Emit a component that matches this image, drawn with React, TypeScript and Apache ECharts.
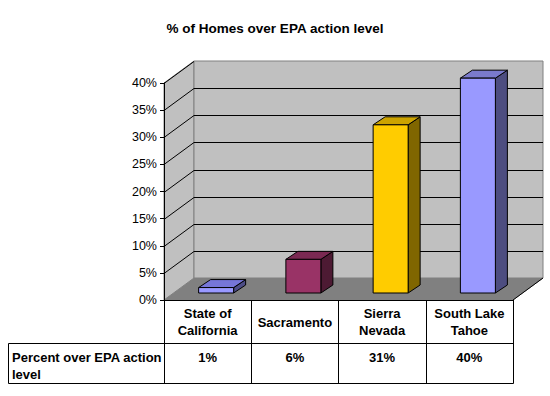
import React, { useEffect, useRef } from "react";
import * as echarts from "echarts";

const title = "% of Homes over EPA action level";
const categories = ["State of\nCalifornia", "Sacramento", "Sierra\nNevada", "South Lake\nTahoe"];
const values = [1, 6.2, 31, 39.6];
const yTicks = [0, 5, 10, 15, 20, 25, 30, 35, 40];
const rowLabel = "Percent over EPA action\nlevel";

const faceColors = [
  { front: "#9999FF", top: "#7676D8", side: "#4D4D86" },
  { front: "#993366", top: "#7A2952", side: "#4D1A33" },
  { front: "#FFCC00", top: "#CCA300", side: "#806600" },
  { front: "#9999FF", top: "#7A7ACC", side: "#4D4D80" },
];

const FONT = "'Liberation Sans', Arial, sans-serif";
const DX = 30; // depth offset of the back wall
const DY = -22;

export default function App() {
  const ref = useRef<HTMLDivElement>(null);
  useEffect(() => {
    if (!ref.current) return;
    const chart = echarts.init(ref.current, null, { renderer: "svg" });
    const yMax = yTicks[yTicks.length - 1];
    const option: any = {
      animation: false,
      backgroundColor: "#ffffff",
      title: {
        text: title,
        left: "center",
        top: 16,
        textStyle: { fontFamily: FONT, fontSize: 13.5, fontWeight: "bold", color: "#000" },
      },
      grid: { left: 164, top: 83, width: 349, height: 217, containLabel: false },
      xAxis: [
        {
          type: "category",
          data: categories,
          position: "bottom",
          z: 10,
          axisLine: { show: true, lineStyle: { color: "#000", width: 1 } },
          axisTick: { show: true, length: 83, alignWithLabel: false, lineStyle: { color: "#000" } },
          axisLabel: {
            interval: 0,
            margin: 22,
            verticalAlign: "middle",
            lineHeight: 17,
            fontFamily: FONT,
            fontSize: 13,
            fontWeight: "bold",
            color: "#000",
          },
          splitLine: { show: false },
        },
        {
          type: "category",
          data: values.map((v) => Math.round(v) + "%"),
          position: "bottom",
          offset: 43,
          z: 10,
          axisLine: { show: true, lineStyle: { color: "#000", width: 1 } },
          axisTick: { show: false },
          axisLabel: {
            interval: 0,
            margin: 14,
            verticalAlign: "middle",
            fontFamily: FONT,
            fontSize: 13,
            fontWeight: "bold",
            color: "#000",
          },
          splitLine: { show: false },
        },
      ],
      yAxis: {
        type: "value",
        min: 0,
        max: yMax,
        interval: 5,
        z: 10,
        axisLine: { show: true, lineStyle: { color: "#000", width: 1 } },
        axisTick: { show: true, length: 4, lineStyle: { color: "#000" } },
        axisLabel: {
          formatter: "{value}%",
          margin: 7,
          fontFamily: FONT,
          fontSize: 12.5,
          color: "#000",
        },
        splitLine: { show: false },
      },
      graphic: [
        {
          type: "rect",
          shape: { x: 8.5, y: 343.5, width: 505, height: 40 },
          style: { fill: "none", stroke: "#000", lineWidth: 1 },
          z: 20,
        },
        {
          type: "text",
          x: 12,
          y: 348.5,
          style: {
            text: rowLabel,
            fontFamily: FONT,
            fontSize: 13,
            fontWeight: "bold",
            lineHeight: 17,
            fill: "#000",
            verticalAlign: "top",
          },
          z: 20,
        },
      ],
      series: [
        {
          type: "custom",
          z: 1,
          clip: false,
          silent: true,
          data: [[0, 0]],
          renderItem: (params: any, api: any) => {
            const bw = api.size([1, 0])[0];
            const p0 = api.coord([0, 0]);
            const x0 = p0[0] - bw / 2;
            const yB = p0[1];
            const x1 = api.coord([categories.length - 1, 0])[0] + bw / 2;
            const yT = api.coord([0, yMax])[1];
            const children: any[] = [];
            children.push({
              type: "polygon",
              shape: { points: [[x0, yB], [x0 + DX, yB + DY], [x1 + DX, yB + DY], [x1, yB]] },
              style: { fill: "#808080", stroke: "#808080", lineWidth: 1 },
            });
            children.push({
              type: "polygon",
              shape: { points: [[x0, yB], [x0, yT], [x0 + DX, yT + DY], [x0 + DX, yB + DY]] },
              style: { fill: "#C0C0C0", stroke: "#808080", lineWidth: 1 },
            });
            children.push({
              type: "polygon",
              shape: {
                points: [
                  [x0 + DX, yT + DY],
                  [x1 + DX, yT + DY],
                  [x1 + DX, yB + DY],
                  [x0 + DX, yB + DY],
                ],
              },
              style: { fill: "#C0C0C0", stroke: "#808080", lineWidth: 1 },
            });
            yTicks.forEach((t) => {
              const y = Math.round(api.coord([0, t])[1]) + 0.5;
              if (t > 0 && t < yMax) {
                children.push({
                  type: "line",
                  shape: { x1: x0 + DX, y1: y + DY, x2: x1 + DX, y2: y + DY },
                  style: { stroke: "#000", lineWidth: 1 },
                });
              }
              if (t > 0) {
                children.push({
                  type: "line",
                  shape: { x1: x0, y1: y, x2: x0 + DX, y2: y + DY },
                  style: { stroke: "#000", lineWidth: 1 },
                });
              }
            });
            children.push({
              type: "line",
              shape: { x1: x1, y1: yB, x2: x1 + DX, y2: yB + DY },
              style: { stroke: "#000", lineWidth: 1 },
            });
            return { type: "group", children };
          },
        },
        {
          type: "custom",
          z: 5,
          clip: false,
          data: values.map((v, i) => [i, v]),
          renderItem: (params: any, api: any) => {
            const i = api.value(0);
            const v = api.value(1);
            const base = api.coord([i, 0]);
            const topP = api.coord([i, v]);
            const cx = base[0] + 8.5;
            const hw = 17.5;
            const yb = base[1] - 7;
            const yt = topP[1] - 7;
            const xl = cx - hw;
            const xr = cx + hw;
            const dx = 12;
            const dy = -8;
            const c = faceColors[i % faceColors.length];
            const st = { stroke: "#000", lineWidth: 1, lineJoin: "round" };
            return {
              type: "group",
              children: [
                {
                  type: "polygon",
                  shape: { points: [[xr, yb], [xr, yt], [xr + dx, yt + dy], [xr + dx, yb + dy]] },
                  style: { fill: c.side, ...st },
                },
                {
                  type: "polygon",
                  shape: { points: [[xl, yt], [xl + dx, yt + dy], [xr + dx, yt + dy], [xr, yt]] },
                  style: { fill: c.top, ...st },
                },
                {
                  type: "rect",
                  shape: { x: xl, y: yt, width: xr - xl, height: yb - yt },
                  style: { fill: c.front, ...st },
                },
              ],
            };
          },
        },
      ],
    };
    chart.setOption(option);
    return () => chart.dispose();
  }, []);
  return (
    <div
      ref={ref}
      style={{ position: "fixed", left: 0, top: 0, width: 550, height: 396, background: "#fff" }}
    />
  );
}
